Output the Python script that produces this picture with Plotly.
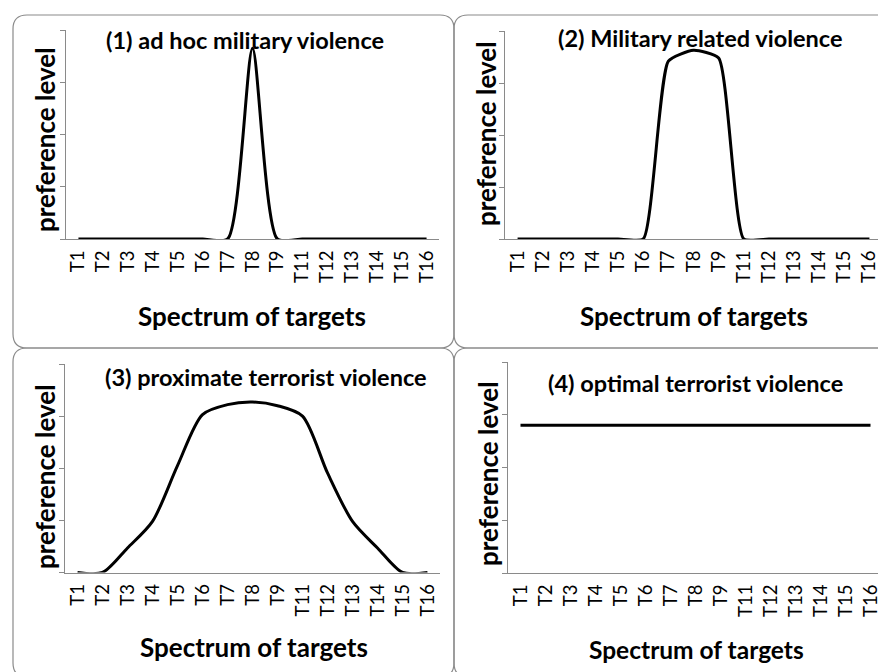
import plotly.graph_objects as go

# ---- data ----
targets = ["T1", "T2", "T3", "T4", "T5", "T6", "T7", "T8", "T9",
           "T11", "T12", "T13", "T14", "T15", "T16"]
adhoc_military = [0, 0, 0, 0, 0, 0, 0, 3.65, 0, 0, 0, 0, 0, 0, 0]
military_related = [0, 0, 0, 0, 0, 0, 3.42, 3.63, 3.48, 0, 0, 0, 0, 0, 0]
proximate_terrorist = [0, 0, 0.47, 0.98, 2.05, 3.03, 3.22, 3.27, 3.2, 3.0, 1.91, 0.98, 0.47, 0, 0]
optimal_terrorist = [2.8] * 15

titles = ["(1) ad hoc military violence", "(2) Military related violence",
          "(3) proximate terrorist violence", "(4) optimal terrorist violence"]
series = [adhoc_military, military_related, proximate_terrorist, optimal_terrorist]
x_title = "Spectrum of targets"
y_title = "preference level"

W, H = 886, 672
FONT = "Lato"


def px(x):
    return x / W


def py(y):
    return 1 - y / H


# plot areas in pixels: (left, right, top, bottom)
areas = [(58, 431, 22, 231), (497, 874, 23, 231), (57, 432, 356, 564.5), (500, 875, 354, 565)]
# boxes in pixels: (left, top, right, bottom)
boxes = [(5, 7, 446, 340), (446, 7, 884, 340), (5, 340, 446, 669), (446, 340, 884, 669)]
title_pos = [(237, 32), (692, 30), (258, 369), (687, 375)]
xt_pos = [(244, 308), (686, 308), (246, 639), (688, 641)]
yt_pos = [(37, 132), (478, 125), (37, 469), (480, 466)]
xt_size = [26, 26, 26, 24.5]
smooth = [0.65, 0.5, 0.8, 0.5]

fig = go.Figure()
layout = dict(width=W, height=H, margin=dict(l=0, r=0, t=0, b=0),
              paper_bgcolor="white", plot_bgcolor="white", showlegend=False,
              font=dict(family=FONT, color="black"))

shapes = []
annotations = []
for i in range(4):
    n = "" if i == 0 else str(i + 1)
    l, r, t, b = areas[i]
    fig.add_trace(go.Scatter(x=targets, y=series[i], mode="lines",
                             line=dict(color="black", width=3, shape="spline", smoothing=smooth[i]),
                             xaxis="x" + n, yaxis="y" + n, hoverinfo="skip"))
    layout["xaxis" + n] = dict(domain=[px(l), px(r)], anchor="y" + n, type="category",
                               range=[-0.5, 14.5], showgrid=False, zeroline=False,
                               showline=True, linecolor="#8a8a8a", linewidth=1.2,
                               ticks="", tickangle=-90, ticklabelstandoff=3,
                               tickfont=dict(family=FONT, size=18.5, color="black"),
                               fixedrange=True)
    layout["yaxis" + n] = dict(domain=[py(b), py(t)], anchor="x" + n, range=[0, 4],
                               dtick=1, tick0=0, showgrid=False, zeroline=False,
                               showline=True, linecolor="#8a8a8a", linewidth=1.2,
                               ticks="outside", ticklen=5, tickcolor="#8a8a8a",
                               showticklabels=False, fixedrange=True)
    # rounded box
    bl, bt, br, bb = boxes[i]
    rad = 14
    path = (f"M {px(bl + rad)},{py(bt)} L {px(br - rad)},{py(bt)} "
            f"Q {px(br)},{py(bt)} {px(br)},{py(bt + rad)} L {px(br)},{py(bb - rad)} "
            f"Q {px(br)},{py(bb)} {px(br - rad)},{py(bb)} L {px(bl + rad)},{py(bb)} "
            f"Q {px(bl)},{py(bb)} {px(bl)},{py(bb - rad)} L {px(bl)},{py(bt + rad)} "
            f"Q {px(bl)},{py(bt)} {px(bl + rad)},{py(bt)} Z")
    shapes.append(dict(type="path", xref="paper", yref="paper", path=path,
                       line=dict(color="#8a8a8a", width=1.2), layer="below"))
    annotations.append(dict(text="<b>" + titles[i] + "</b>", x=px(title_pos[i][0]), y=py(title_pos[i][1]),
                            xref="paper", yref="paper", showarrow=False, xanchor="center", yanchor="middle",
                            font=dict(family=FONT, size=23.5, color="black")))
    annotations.append(dict(text="<b>" + x_title + "</b>", x=px(xt_pos[i][0]), y=py(xt_pos[i][1]),
                            xref="paper", yref="paper", showarrow=False, xanchor="center", yanchor="middle",
                            font=dict(family=FONT, size=xt_size[i], color="black")))
    annotations.append(dict(text="<b>" + y_title + "</b>", x=px(yt_pos[i][0]), y=py(yt_pos[i][1]),
                            xref="paper", yref="paper", showarrow=False, xanchor="center", yanchor="middle",
                            textangle=-90, font=dict(family=FONT, size=26, color="black")))

layout["shapes"] = shapes
layout["annotations"] = annotations
fig.update_layout(**layout)
fig.write_html("out.html")
